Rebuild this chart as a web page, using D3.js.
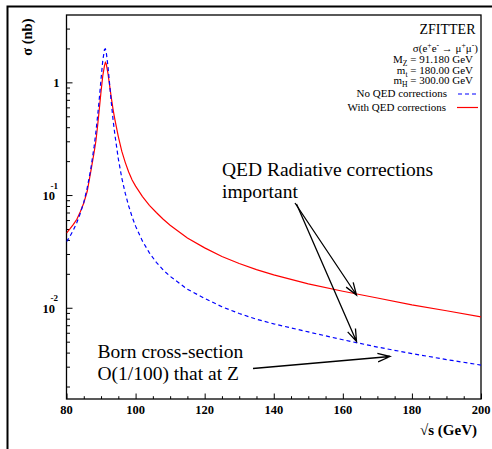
<!DOCTYPE html>
<html>
<head>
<meta charset="utf-8">
<script src="https://cdn.jsdelivr.net/npm/d3@7"></script>
<style>
  body { margin: 0; background: #fff; }
  svg { display: block; }
  text { font-family: "Liberation Serif", "Times New Roman", serif; fill: #000; }
</style>
</head>
<body>
<svg id="chart" width="492" height="449"></svg>
<script>
// Centre-of-mass energy grid (GeV)
const sqrtS = [80, 81, 82, 83, 84, 85, 86, 87, 88, 88.5, 89, 89.5, 90, 90.5, 91, 91.25, 91.5,
  92, 92.5, 93, 93.5, 94, 95, 96, 97, 98, 99, 100, 102, 104, 106, 108, 110, 115, 120, 125,
  130, 135, 140, 150, 160, 170, 180, 190, 200];

// sigma(e+e- -> mu+mu-) in nb, Born level (no QED corrections)
const sigmaNoQED = [0.0386, 0.043, 0.049, 0.057, 0.069, 0.086, 0.116, 0.168, 0.27, 0.36, 0.50,
  0.72, 1.07, 1.56, 1.96, 1.98, 1.86, 1.39, 0.95, 0.65, 0.46, 0.345, 0.21, 0.142, 0.104, 0.080,
  0.064, 0.053, 0.039, 0.0307, 0.0253, 0.0216, 0.0190, 0.0146, 0.0121, 0.0102, 0.0089, 0.0079,
  0.0072, 0.0061, 0.0052, 0.00448, 0.00392, 0.00347, 0.0031];

// sigma(e+e- -> mu+mu-) in nb, with QED radiative corrections
const sigmaWithQED = [0.046, 0.050, 0.055, 0.061, 0.071, 0.085, 0.108, 0.16, 0.24, 0.30, 0.41,
  0.58, 0.83, 1.14, 1.41, 1.50, 1.46, 1.20, 0.93, 0.72, 0.57, 0.47, 0.33, 0.245, 0.195, 0.16,
  0.136, 0.12, 0.097, 0.081, 0.070, 0.061, 0.054, 0.0415, 0.034, 0.0285, 0.0247, 0.0218,
  0.0196, 0.0163, 0.0140, 0.0122, 0.0106, 0.0094, 0.0083];

const xMajorTicks = [80, 100, 120, 140, 160, 180, 200];
const xMinorTicks = d3.range(80, 201, 5);
const yMajorTicks = [1, 0.1, 0.01];
const yMajorLabels = [["1", ""], ["10", "-1"], ["10", "-2"]];

const svg = d3.select("#chart");
svg.append("rect").attr("width", 492).attr("height", 449).attr("fill", "#fff");

// outer canvas frame (only top and left edges fall inside the view)
svg.append("rect")
  .attr("x", 7.5).attr("y", 6.5).attr("width", 600).attr("height", 600)
  .attr("fill", "none").attr("stroke", "#000").attr("stroke-width", 2);

const P = { left: 66.5, right: 481, top: 15, bottom: 399 };
const x = d3.scaleLinear().domain([80, 200]).range([P.left, P.right]);
const y = d3.scaleLog().domain([0.00155, 3.96]).range([P.bottom, P.top]);

// ticks on the bottom axis (pointing inwards)
const gx = svg.append("g").attr("transform", `translate(0,${P.bottom})`);
gx.call(d3.axisBottom(x).tickValues(xMinorTicks.filter(v => v % 20 !== 0)).tickSize(-2.8).tickFormat(""));
gx.call(g => g.select(".domain").remove());
const gx2 = svg.append("g").attr("transform", `translate(0,${P.bottom})`);
gx2.call(d3.axisBottom(x).tickValues(xMajorTicks).tickSize(-5.5).tickFormat(""));
gx2.call(g => g.select(".domain").remove());
svg.selectAll(".tick line").attr("stroke-width", 1);

svg.append("g").selectAll("text").data(xMajorTicks).join("text")
  .attr("x", d => x(d)).attr("y", 413.5)
  .attr("text-anchor", "middle")
  .attr("font-size", 12.5).attr("font-weight", "bold")
  .text(d => d);

// ticks on the log axis
const [yLo, yHi] = y.domain();
const yMinor = [];
for (let e = -3; e <= 0; e++) {
  for (let m = 2; m <= 9; m++) {
    const v = m * Math.pow(10, e);
    if (v >= yLo && v <= yHi) yMinor.push(v);
  }
}
const gy = svg.append("g").attr("transform", `translate(${P.left},0)`);
gy.call(d3.axisLeft(y).tickValues(yMinor).tickSize(-3.5).tickFormat(""));
gy.call(g => g.select(".domain").remove());
const gy2 = svg.append("g").attr("transform", `translate(${P.left},0)`);
gy2.call(d3.axisLeft(y).tickValues(yMajorTicks).tickSize(-6).tickFormat(""));
gy2.call(g => g.select(".domain").remove());
svg.selectAll(".tick line").attr("stroke-width", 1);

const yl = svg.append("g");
yMajorTicks.forEach((v, i) => {
  const [base, exp] = yMajorLabels[i];
  const ty = y(v);
  if (!exp) {
    yl.append("text").attr("x", 59.5).attr("y", ty + 4.5).attr("text-anchor", "end")
      .attr("font-size", 12.5).attr("font-weight", "bold").text(base);
  } else {
    yl.append("text").attr("x", 55).attr("y", ty + 5).attr("text-anchor", "end")
      .attr("font-size", 12.5).attr("font-weight", "bold").text(base);
    yl.append("text").attr("x", 50.5).attr("y", ty - 6.5).attr("text-anchor", "start")
      .attr("font-size", 9).attr("font-weight", "bold").text(exp);
  }
});

// plot frame
svg.append("rect")
  .attr("x", P.left).attr("y", P.top)
  .attr("width", P.right - P.left).attr("height", P.bottom - P.top)
  .attr("fill", "none").attr("stroke", "#000").attr("stroke-width", 1.3);

// curves
svg.append("clipPath").attr("id", "plotClip").append("rect")
  .attr("x", P.left).attr("y", P.top)
  .attr("width", P.right - P.left).attr("height", P.bottom - P.top);

const line = d3.line().x(d => x(d[0])).y(d => y(d[1]));
const curves = svg.append("g").attr("clip-path", "url(#plotClip)");
curves.append("path")
  .attr("d", line(sqrtS.map((s, i) => [s, sigmaWithQED[i]])))
  .attr("fill", "none").attr("stroke", "#ff0000").attr("stroke-width", 1.2);
curves.append("path")
  .attr("d", line(sqrtS.map((s, i) => [s, sigmaNoQED[i]])))
  .attr("fill", "none").attr("stroke", "#0000ff").attr("stroke-width", 1.2)
  .attr("stroke-dasharray", "4,3");

// axis titles
svg.append("text")
  .attr("transform", "translate(32,18.5) rotate(-90)")
  .attr("text-anchor", "end")
  .attr("font-size", 14.5).attr("font-weight", "bold")
  .text("σ (nb)");
svg.append("text")
  .attr("x", 477).attr("y", 435).attr("text-anchor", "end")
  .attr("font-size", 15).attr("font-weight", "bold")
  .text("√s (GeV)");

// legend / parameter box
const leg = svg.append("g");
leg.append("text").attr("x", 475.5).attr("y", 34).attr("text-anchor", "end")
  .attr("font-size", 14).text("ZFITTER");

function richText(xp, yp, parts, size) {
  const t = leg.append("text").attr("x", xp).attr("y", yp)
    .attr("text-anchor", "end").attr("font-size", size);
  let shift = 0;
  parts.forEach(([str, kind]) => {
    const target = kind === "sup" ? -4 : kind === "sub" ? 3 : 0;
    t.append("tspan")
      .attr("dy", target - shift)
      .attr("font-size", kind ? size * 0.7 : size)
      .text(str);
    shift = target;
  });
  return t;
}
richText(478, 52, [["σ(e", ""], ["+", "sup"], ["e", ""], ["-", "sup"], [" \u2192 μ", ""],
  ["+", "sup"], ["μ", ""], ["-", "sup"], [")", ""]], 11);
richText(473, 63, [["M", ""], ["Z", "sub"], [" = 91.180 GeV", ""]], 11);
richText(473, 73.5, [["m", ""], ["t", "sub"], [" = 180.00 GeV", ""]], 11);
richText(473, 83.5, [["m", ""], ["H", "sub"], [" = 300.00 GeV", ""]], 11);

leg.append("text").attr("x", 447).attr("y", 96.5).attr("text-anchor", "end")
  .attr("font-size", 11).text("No QED corrections");
leg.append("text").attr("x", 446).attr("y", 111).attr("text-anchor", "end")
  .attr("font-size", 11).text("With QED corrections");
leg.append("line").attr("x1", 458).attr("x2", 478).attr("y1", 94).attr("y2", 94)
  .attr("stroke", "#0000ff").attr("stroke-width", 1.2).attr("stroke-dasharray", "4,3");
leg.append("line").attr("x1", 457).attr("x2", 478).attr("y1", 107.5).attr("y2", 107.5)
  .attr("stroke", "#ff0000").attr("stroke-width", 1.2);

// annotations
const ann = svg.append("g").attr("font-size", 19.5);
ann.append("text").attr("x", 222).attr("y", 176).text("QED Radiative corrections");
ann.append("text").attr("x", 222).attr("y", 198).text("important");
ann.append("text").attr("x", 97.5).attr("y", 357.5).text("Born cross-section");
ann.append("text").attr("x", 97.5).attr("y", 379.5).text("O(1/100) that at Z");

function arrow(x1, y1, x2, y2) {
  const a = Math.atan2(y2 - y1, x2 - x1);
  const L = 13, h = 19 * Math.PI / 180;
  const p = d3.path();
  p.moveTo(x1, y1); p.lineTo(x2, y2);
  p.moveTo(x2 - L * Math.cos(a - h), y2 - L * Math.sin(a - h));
  p.lineTo(x2, y2);
  p.lineTo(x2 - L * Math.cos(a + h), y2 - L * Math.sin(a + h));
  svg.append("path").attr("d", p.toString())
    .attr("fill", "none").attr("stroke", "#000").attr("stroke-width", 1.3);
}
arrow(295, 203, 356.5, 295);
arrow(296.5, 204, 356.5, 341.5);
arrow(253, 368.5, 390, 356.5);
</script>
</body>
</html>
